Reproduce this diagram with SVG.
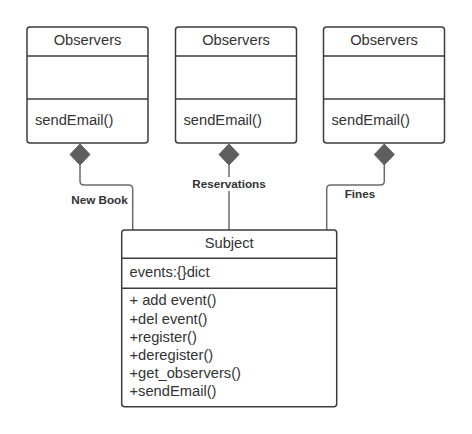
<svg xmlns="http://www.w3.org/2000/svg" width="472" height="434" viewBox="0 0 472 434">
<style>
.box{fill:#fff;stroke:#3c3c3c;stroke-width:1.5}
.sep{stroke:#3c3c3c;stroke-width:1.5}
.t{font-family:"Liberation Sans",Arial,sans-serif;font-size:14.7px;fill:#333}
.c{text-anchor:middle}
.lbl{font-family:"Liberation Sans",Arial,sans-serif;font-size:11.7px;font-weight:bold;fill:#333;text-anchor:middle}
.con{fill:none;stroke:#6b6b6b;stroke-width:1.5}
.dia{fill:#5e5e5e;stroke:#5e5e5e;stroke-width:1}
</style>
<rect width="472" height="434" fill="#fff"/>
<g id="connectors">
<path class="con" d="M80,165 V181 Q80,185 84,185 H128.7 Q132.7,185 132.7,189 V230"/>
<path class="con" d="M229,165 V230"/>
<path class="con" d="M384.3,165 V181 Q384.3,185 380.3,185 H330.7 Q326.7,185 326.7,189 V230"/>
<polygon class="dia" points="80,144 90,154.5 80,165 70,154.5"/>
<polygon class="dia" points="229,144 239,154.5 229,165 219,154.5"/>
<polygon class="dia" points="384.3,144 394.3,154.5 384.3,165 374.3,154.5"/>
<rect x="68" y="193" width="62" height="14" fill="#fff"/>
<text class="lbl" x="99.5" y="204">New Book</text>
<rect x="190" y="177" width="78" height="14" fill="#fff"/>
<text class="lbl" x="229" y="188">Reservations</text>
<rect x="343" y="187" width="34" height="14" fill="#fff"/>
<text class="lbl" x="360" y="198">Fines</text>
</g>
<g id="observer1">
<rect class="box" x="27" y="27" width="121" height="116" rx="3"/>
<line class="sep" x1="27" y1="56" x2="148" y2="56"/>
<line class="sep" x1="27" y1="99" x2="148" y2="99"/>
<text class="t c" x="87.5" y="45">Observers</text>
<text class="t" x="35" y="125">sendEmail()</text>
</g>
<g id="observer2">
<rect class="box" x="175.5" y="27" width="121" height="116" rx="3"/>
<line class="sep" x1="175.5" y1="56" x2="296.5" y2="56"/>
<line class="sep" x1="175.5" y1="99" x2="296.5" y2="99"/>
<text class="t c" x="236" y="45">Observers</text>
<text class="t" x="183.5" y="125">sendEmail()</text>
</g>
<g id="observer3">
<rect class="box" x="323.5" y="27" width="121" height="116" rx="3"/>
<line class="sep" x1="323.5" y1="56" x2="444.5" y2="56"/>
<line class="sep" x1="323.5" y1="99" x2="444.5" y2="99"/>
<text class="t c" x="384" y="45">Observers</text>
<text class="t" x="331.5" y="125">sendEmail()</text>
</g>
<g id="subject">
<rect class="box" x="121.7" y="230" width="215" height="176.7" rx="3"/>
<line class="sep" x1="121.7" y1="258.3" x2="336.7" y2="258.3"/>
<line class="sep" x1="121.7" y1="288.3" x2="336.7" y2="288.3"/>
<text class="t c" x="229.2" y="248">Subject</text>
<text class="t" x="129.5" y="277">events:{}dict</text>
<text class="t" x="129.5" y="305.3">+ add event()</text>
<text class="t" x="129.5" y="324.3">+del event()</text>
<text class="t" x="129.5" y="342">+register()</text>
<text class="t" x="129.5" y="359.6">+deregister()</text>
<text class="t" x="129.5" y="378">+get_observers()</text>
<text class="t" x="129.5" y="396.3">+sendEmail()</text>
</g>
</svg>
